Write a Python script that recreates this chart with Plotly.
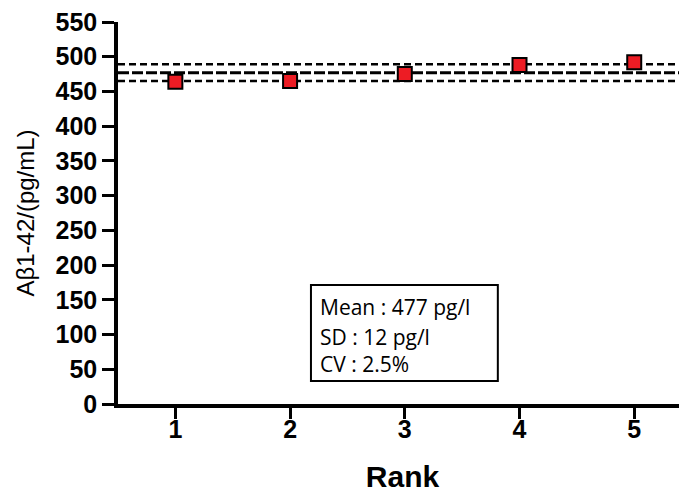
import plotly.graph_objects as go

# Data
ranks = [1, 2, 3, 4, 5]
values = [464, 465, 475, 488, 492]
mean_val = 477
sd_val = 12
cv_text = "2.5%"
y_ticks = list(range(0, 551, 50))
x_ticks = [1, 2, 3, 4, 5]
box_lines = [f"Mean : {mean_val} pg/l", f"SD : {sd_val} pg/l", f"CV : {cv_text}"]

fig = go.Figure()

fig.add_trace(go.Scatter(
    x=ranks, y=values, mode="markers",
    marker=dict(symbol="square", size=14, color="#ed1c24",
                line=dict(color="black", width=2)),
    showlegend=False, cliponaxis=False,
))

# mean and mean +/- SD lines
for yv, dash, w in [(mean_val + sd_val, "7px,4px", 2.5),
                    (mean_val, "11px,3px", 3),
                    (mean_val - sd_val, "7px,4px", 2.5)]:
    fig.add_shape(type="line", xref="x domain", yref="y", x0=0, x1=1,
                  y0=yv, y1=yv, layer="below",
                  line=dict(color="black", width=w, dash=dash))

# stats box
fig.add_shape(type="rect", xref="x", yref="y", x0=2.182, x1=3.811,
              y0=33.1, y1=171.3, line=dict(color="black", width=2),
              fillcolor="white", layer="below")
for txt, yv in zip(box_lines, [139.7, 96.5, 57.6]):
    fig.add_annotation(x=2.243, y=yv, xref="x", yref="y", text=txt,
                       showarrow=False, xanchor="left", yanchor="middle",
                       font=dict(family="Open Sans", size=21, color="black"))

fig.update_xaxes(
    range=[0.5, 5.46], tickmode="array", tickvals=x_ticks,
    ticktext=[str(t) for t in x_ticks], automargin=False,
    showgrid=False, zeroline=False, showline=True, linecolor="black",
    linewidth=3.5, ticks="outside", ticklen=11, tickwidth=3, tickcolor="black",
    ticklabelstandoff=-11, ticklabeloverflow="allow",
    tickfont=dict(family="Liberation Sans", size=25, color="black", weight="bold"),
    title=dict(text="Rank", standoff=26,
               font=dict(family="Liberation Sans", size=30, color="black", weight="bold")),
)
fig.update_yaxes(
    range=[0, 550], tickmode="array", tickvals=y_ticks,
    ticktext=[str(t) for t in y_ticks], automargin=False,
    showgrid=False, zeroline=False, showline=True, linecolor="black",
    linewidth=3.5, ticks="outside", ticklen=12, tickwidth=3, tickcolor="black",
    ticklabeloverflow="allow",
    tickfont=dict(family="Liberation Sans", size=25, color="black", weight="bold"),
    title=dict(text="Aβ1-42/(pg/mL)", standoff=15,
               font=dict(family="Liberation Sans", size=24, color="black")),
)

# page body adds an 8px offset; figure sized so the plot lands where the reference has it
fig.update_layout(
    width=679, height=485,
    margin=dict(l=110, r=0, t=14, b=89),
    plot_bgcolor="white", paper_bgcolor="white",
)

fig.write_html("out.html")
